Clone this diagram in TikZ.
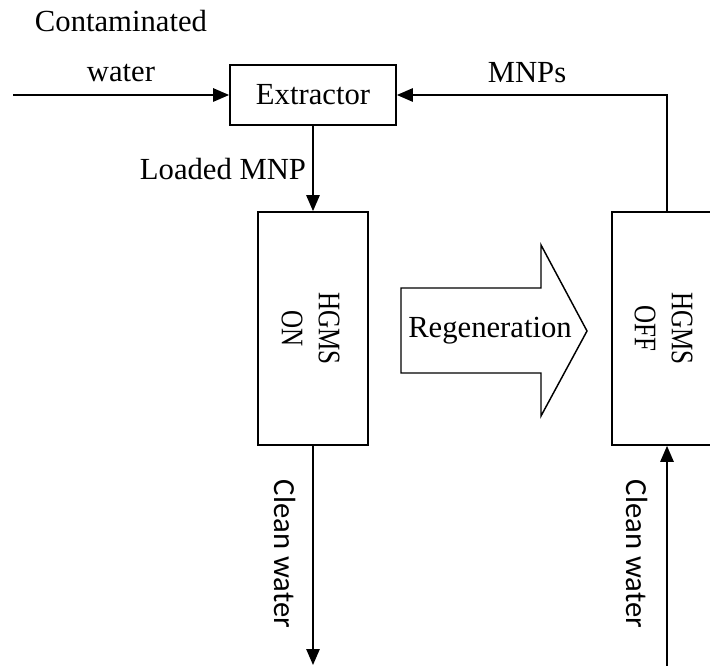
\documentclass[tikz,border=0pt]{standalone}
\usepackage{fontspec}
\setmainfont{Liberation Serif}
\newfontfamily\cleanfont{Carlito}
\newfontfamily\narrowfont[FakeStretch=0.8]{Liberation Serif}
\usetikzlibrary{arrows.meta}
\tikzset{
  unit/.style={draw, minimum width=166*0.75pt, minimum height=60*0.75pt, inner sep=0pt},
  column/.style={draw, minimum width=110*0.75pt, minimum height=233*0.75pt, inner sep=0pt},
  flow/.style={-{Triangle[length=12pt, width=10pt]}},
  tag/.style={inner sep=0pt, anchor=base},
  vtag/.style={inner sep=0pt, rotate=-90, align=center}
}
\begin{document}
\begin{tikzpicture}[x=0.75pt, y=-0.75pt, line width=1.3pt, font=\fontsize{23}{27.6}\selectfont]
  \useasboundingbox (0,0) rectangle (710,666);
  % el extractor y las dos columnas
  \node[unit] (ext) at (313,95) {Extractor};
  \node[column] (on) at (313,328.5) {};
  \node[column] (off) at (667,328.5) {};
  \node[vtag, font=\narrowfont\fontsize{23.5}{27.8}\selectfont] (onlbl) at (310.5,328.5) {HGMS\\ON};
  \node[vtag, font=\narrowfont\fontsize{23.5}{27.8}\selectfont] (offlbl) at (663.5,328.5) {HGMS\\OFF};
  % los extremos libres
  \coordinate (inW) at (13,95);
  \coordinate (outL) at (313,665);
  \coordinate (inR) at (667,666);
  % las corrientes
  \draw[flow] (inW) -- (ext.west);
  \draw[flow] (ext.south) -- (on.north);
  \draw[flow] (off.north) |- (ext.east);
  \draw[flow] (on.south) -- (outL);
  \draw[flow] (inR) -- (off.south);
  % la flecha grande de regeneración
  \draw[line width=1.1pt] (401,288) -- (541,288) -- (541,245) -- (587,331)
    -- (541,416) -- (541,373) -- (401,373) -- cycle;
  \node[inner sep=0pt] (regen) at (490,331) {Regeneration};
  % los rótulos
  \node[tag] (cont) at (121,32) {Contaminated};
  \node[tag] (wat) at (121,82) {water};
  \node[tag] (load) at (223,180) {Loaded MNP};
  \node[tag] (mnps) at (527,83) {MNPs};
  \node[vtag, font=\cleanfont\fontsize{23}{27}\selectfont] (cleanL) at (285,554) {Clean water};
  \node[vtag, font=\cleanfont\fontsize{23}{27}\selectfont] (cleanR) at (637,554) {Clean water};
\end{tikzpicture}
\end{document}
